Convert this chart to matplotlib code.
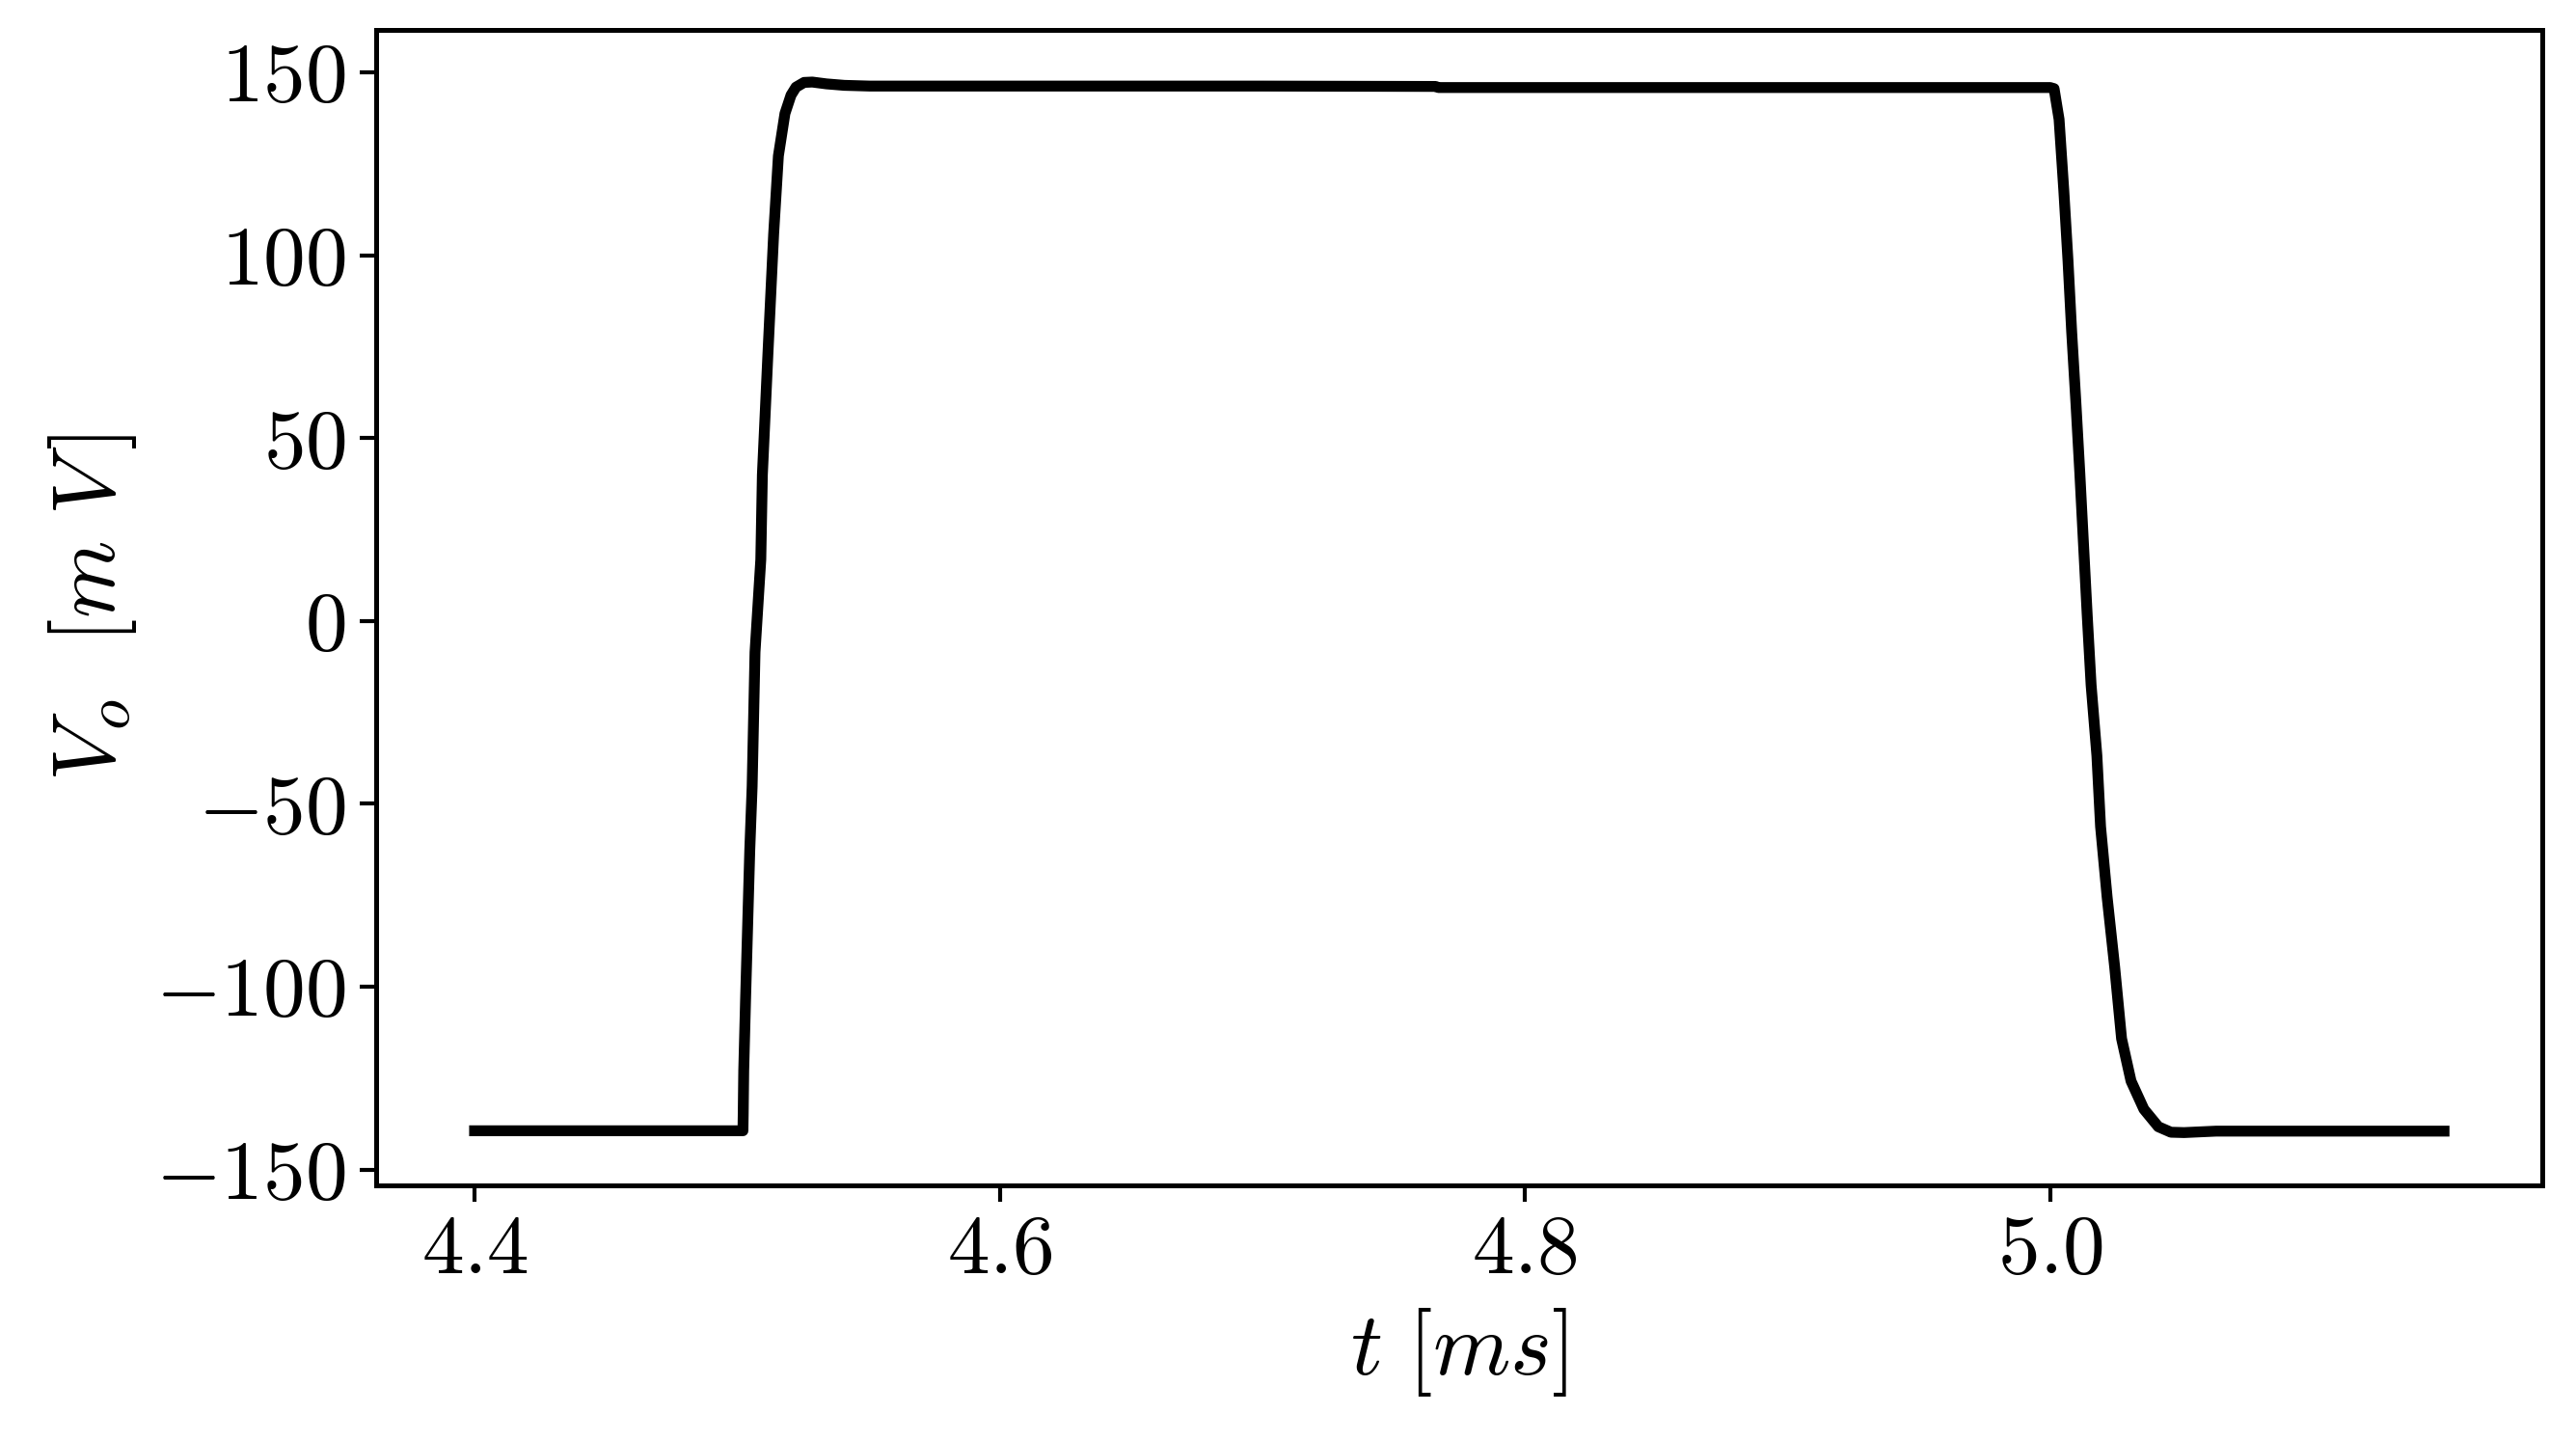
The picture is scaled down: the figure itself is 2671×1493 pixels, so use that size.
import matplotlib
matplotlib.use('Agg')
import matplotlib.pyplot as plt

# output voltage pulse
t_ms = [4.400, 4.5022, 4.5023, 4.5025, 4.5032, 4.5048, 4.5057, 4.5068, 4.5090,
        4.5096, 4.5117, 4.5139, 4.5157, 4.5182, 4.5205, 4.5224, 4.5255, 4.5286,
        4.5340, 4.5408, 4.5505, 4.700, 4.766, 4.767, 4.900, 5.0000, 5.0015,
        5.0034, 5.0052, 5.0068, 5.0082, 5.0098, 5.0113, 5.0127, 5.0141, 5.0156,
        5.0178, 5.0192, 5.0217, 5.0246, 5.0272, 5.0308, 5.0357, 5.0412, 5.0460,
        5.0510, 5.0632, 5.100, 5.150]
v_mv = [-139.4, -139.4, -135.0, -122.9, -103.5, -62.7, -45.3, -8.5, 16.8,
        40.0, 72.9, 105.9, 127.2, 138.8, 143.8, 146.0, 147.3, 147.4,
        146.9, 146.5, 146.3, 146.3, 146.2, 145.9, 145.9, 145.9, 145.6,
        137.2, 117.8, 98.5, 79.1, 59.8, 40.5, 21.1, 1.8, -17.5,
        -36.8, -56.2, -75.5, -94.8, -114.2, -125.8, -133.5, -138.3, -139.8,
        -139.9, -139.5, -139.5, -139.5]

plt.rcParams['font.family'] = 'serif'
plt.rcParams['font.serif'] = ['cmr10']
plt.rcParams['mathtext.fontset'] = 'cm'
plt.rcParams['axes.formatter.use_mathtext'] = True
plt.rcParams['axes.unicode_minus'] = True

fig, ax = plt.subplots(figsize=(2671 / 300, 1493 / 300), dpi=300)
fig.subplots_adjust(left=0.146, right=0.987, top=0.9795, bottom=0.177)

ax.plot(t_ms, v_mv, color='black', linewidth=2.7)

ax.set_yticks([-150, -100, -50, 0, 50, 100, 150])
ax.set_xticks([4.4, 4.6, 4.8, 5.0])
ax.tick_params(labelsize=21, width=1.0, length=4)
for sp in ax.spines.values():
    sp.set_linewidth(1.2)

ax.set_xlabel(r'$t\ \mathit{[ms]}$', fontsize=22)
ax.set_ylabel(r'$V_o\ \ \mathit{[m\ V\,]}$', fontsize=22)

fig.savefig('out.png', dpi=300)
